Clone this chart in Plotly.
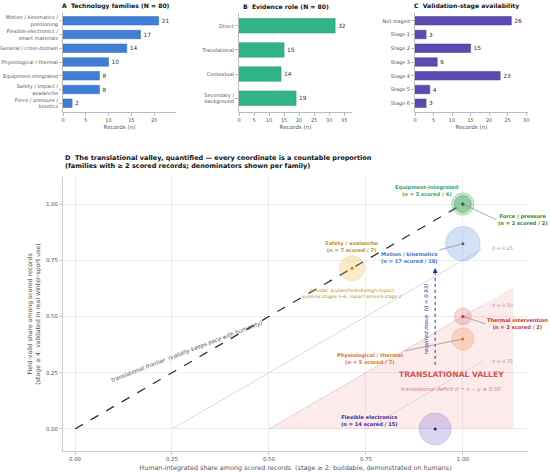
import plotly.graph_objects as go

FONT = "DejaVu Sans"

# ---- panel A: technology families
tech_families = ["Motion / kinematics /<br>positioning", "Flexible electronics /<br>smart materials",
                 "General / cross-domain", "Physiological / thermal", "Equipment-integrated",
                 "Safety / impact /<br>avalanche", "Force / pressure /<br>kinetics"]
tech_counts = [21, 17, 14, 10, 8, 8, 2]

# ---- panel B: evidence role
evidence_roles = ["Direct", "Translational", "Contextual", "Secondary /<br>background"]
evidence_counts = [32, 15, 14, 19]

# ---- panel C: validation stage
stages = ["Not staged", "Stage 1", "Stage 2", "Stage 3", "Stage 4", "Stage 5", "Stage 6"]
stage_counts = [26, 3, 15, 6, 23, 4, 3]

# ---- panel D: families with >= 2 scored records
d_families = ["Motion / kinematics", "Flexible electronics", "Physiological / thermal",
              "Equipment-integrated", "Safety / avalanche", "Force / pressure",
              "Thermal intervention"]
n_scored = [17, 14, 5, 5, 7, 2, 2]
n_total = [18, 15, 7, 6, 7, 2, 2]
n_human = [17, 13, 5, 5, 5, 2, 2]   # stage >= 2
n_field = [14, 0, 2, 5, 5, 2, 1]    # stage >= 4
fill_colors = ["rgba(74,134,216,0.35)", "rgba(106,90,205,0.35)", "rgba(244,150,100,0.45)",
               "rgba(60,170,100,0.40)", "rgba(240,190,80,0.45)", "rgba(40,140,60,0.45)",
               "rgba(224,90,100,0.35)"]
dot_colors = ["#2a62c0", "#2a1a80", "#e0702a", "#1f7a3a", "#c08a10", "#1a5a1a", "#d02030"]
label_colors = ["#3a78d0", "#3a2a9a", "#e0702a", "#2aa870", "#b8901a", "#2a8a2a", "#d03030"]

d_thresholds = [0.25, 0.50, 0.75]
valley_d = 0.50

hx = [h / s for h, s in zip(n_human, n_scored)]
fy = [f / s for f, s in zip(n_field, n_scored)]
sizes = [2 * (4 + 3.2 * s ** 0.5) for s in n_scored]

fig = go.Figure()

# top bars
fig.add_trace(go.Bar(y=tech_families, x=tech_counts, orientation="h", width=0.62,
                     marker=dict(color="#3f7fd6", line=dict(color="#2f6bc0", width=0.5)),
                     text=tech_counts, textposition="outside", cliponaxis=False,
                     textfont=dict(size=5.8, color="#333"), xaxis="x", yaxis="y"))
fig.add_trace(go.Bar(y=evidence_roles, x=evidence_counts, orientation="h", width=0.6,
                     marker=dict(color="#31b586", line=dict(color="#229a70", width=0.5)),
                     text=evidence_counts, textposition="outside", cliponaxis=False,
                     textfont=dict(size=5.8, color="#333"), xaxis="x2", yaxis="y2"))
fig.add_trace(go.Bar(y=stages, x=stage_counts, orientation="h", width=0.62,
                     marker=dict(color="#5b4bb0", line=dict(color="#45389a", width=0.5)),
                     text=stage_counts, textposition="outside", cliponaxis=False,
                     textfont=dict(size=5.8, color="#333"), xaxis="x3", yaxis="y3"))

# panel D: valley shading
x_end = 1.13
fig.add_trace(go.Scatter(x=[valley_d, x_end, x_end, valley_d], y=[0, x_end - valley_d, 0, 0],
                         fill="toself", fillcolor="rgba(240,120,120,0.15)", mode="lines",
                         line=dict(width=0), hoverinfo="skip", xaxis="x4", yaxis="y4"))

# iso-deficit lines
for d in d_thresholds:
    fig.add_trace(go.Scatter(x=[d, 1.05], y=[0, 1.05 - d], mode="lines",
                             line=dict(color="#d0d0d0", width=0.8), hoverinfo="skip",
                             xaxis="x4", yaxis="y4"))
    fig.add_annotation(x=1.07, y=1.07 - d - 0.02, text=f"d = {d:.2f}", showarrow=False,
                       xanchor="left", font=dict(size=4.8, color="#999"), xref="x4", yref="y4")

# frontier
fig.add_trace(go.Scatter(x=[0, 1], y=[0, 1], mode="lines",
                         line=dict(color="#333", width=1.3, dash="dash"), hoverinfo="skip",
                         xaxis="x4", yaxis="y4"))

# required move for flexible electronics
fx = hx[1]
fig.add_trace(go.Scatter(x=[fx, fx], y=[0.285, 0.70], mode="lines",
                         line=dict(color="#3a2a9a", width=1, dash="dot"), hoverinfo="skip",
                         xaxis="x4", yaxis="y4"))
fig.add_annotation(x=fx, y=0.715, ax=fx, ay=0.69, xref="x4", yref="y4", axref="x4", ayref="y4",
                   showarrow=True, arrowhead=2, arrowsize=1, arrowwidth=1, arrowcolor="#3a2a9a",
                   text="")
fig.add_annotation(x=fx - 0.022, y=0.49, text=f"required move  (d = {hx[1] - fy[1]:.2f})",
                   textangle=-90, showarrow=False, xref="x4", yref="y4",
                   font=dict(size=5.4, color="#3a2a9a", style="italic"))

# bubbles
fig.add_trace(go.Scatter(x=hx, y=fy, mode="markers", hoverinfo="skip",
                         marker=dict(size=sizes, color=fill_colors,
                                     line=dict(color=fill_colors, width=1)),
                         xaxis="x4", yaxis="y4"))
fig.add_trace(go.Scatter(x=hx, y=fy, mode="markers", hoverinfo="skip",
                         marker=dict(size=3, color=dot_colors), xaxis="x4", yaxis="y4"))

# family labels: (label x, label y, anchor, leader)
label_pos = [(0.862, 0.76, "center", True), (0.76, 0.036, "center", False),
             (0.76, 0.315, "center", True), (0.907, 1.062, "center", False),
             (0.714, 0.81, "center", False), (1.086, 0.93, "left", True),
             (1.058, 0.467, "left", True)]
for i, (lx, ly, anc, leader) in enumerate(label_pos):
    txt = f"<b>{d_families[i]}<br>(n = {n_scored[i]} scored / {n_total[i]})</b>"
    if leader:
        fig.add_annotation(x=hx[i], y=fy[i], ax=lx, ay=ly, xref="x4", yref="y4",
                           axref="x4", ayref="y4", text=txt, showarrow=True, arrowhead=0,
                           arrowwidth=0.7, arrowcolor="#888", xanchor=anc, standoff=0,
                           font=dict(size=5.1, color=label_colors[i]))
    else:
        fig.add_annotation(x=lx, y=ly, xref="x4", yref="y4", text=txt, showarrow=False,
                           xanchor=anc, font=dict(size=5.1, color=label_colors[i]))

fig.add_annotation(x=0.714, y=0.6, xref="x4", yref="y4", showarrow=False,
                   text="bimodal: avalanche/bobsleigh-impact<br>systems stages 5\u20136; impact sensors stage 1",
                   font=dict(size=4.5, color="#b8901a", style="italic"))
fig.add_annotation(x=0.29, y=0.345, xref="x4", yref="y4", showarrow=False, textangle=-21,
                   text="translational frontier  (validity keeps pace with humanity)",
                   font=dict(size=5.6, color="#555", style="italic"))
fig.add_annotation(x=0.97, y=0.24, xref="x4", yref="y4", showarrow=False,
                   text="<b>TRANSLATIONAL VALLEY</b>", font=dict(size=7.6, color="#d9534f"))
fig.add_annotation(x=0.97, y=0.175, xref="x4", yref="y4", showarrow=False,
                   text="translational deficit d = x \u2212 y \u2265 0.50",
                   font=dict(size=5.4, color="#d98080", style="italic"))

# titles
title_font = dict(size=6.1, color="#111", family=FONT)
for tx, ttl in [(115.5, "A  Technology families (N = 80)"), (285.5, "B  Evidence role (N = 80)"),
                (466.5, "C  Validation-stage availability")]:
    fig.add_annotation(x=tx / 550, y=1 - 6 / 473, xref="paper", yref="paper", showarrow=False,
                       text=f"<b>{ttl}</b>", font=title_font, xanchor="center", yanchor="middle")
fig.add_annotation(x=63 / 550, y=1 - 152 / 473, xref="paper", yref="paper", showarrow=False,
                   xanchor="left", yanchor="top", align="left",
                   text="<b>D  The translational valley, quantified \u2014 every coordinate is a countable proportion<br>"
                        "(families with \u2265 2 scored records; denominators shown per family)</b>",
                   font=dict(size=6.5, color="#111", family=FONT))

tick_font = dict(size=5.0, color="#555")
bar_x = dict(showline=True, linecolor="#bbb", ticks="outside", ticklen=3, tickcolor="#bbb",
             showgrid=False, zeroline=False, tickfont=tick_font, automargin=False,
             title=dict(text="Records (n)", font=dict(size=5.6, color="#555"), standoff=3))
bar_y = dict(showline=True, linecolor="#bbb", ticks="outside", ticklen=3, tickcolor="#bbb",
             showgrid=False, tickfont=tick_font, automargin=False)
top_dom = [1 - 111.5 / 473, 1 - 12.5 / 473]
d_ax = dict(tickvals=[0, 0.25, 0.5, 0.75, 1.0], ticktext=["0.00", "0.25", "0.50", "0.75", "1.00"],
            showline=True, linecolor="#ccc", ticks="outside", ticklen=3, tickcolor="#ccc",
            showgrid=True, gridcolor="#eeeeee", gridwidth=0.8, zeroline=False,
            tickfont=dict(size=5.4, color="#555"), automargin=False)

fig.update_layout(
    width=550, height=473, showlegend=False, plot_bgcolor="white", paper_bgcolor="white",
    margin=dict(l=0, r=0, t=0, b=0), font=dict(family=FONT), bargap=0.3,
    xaxis=dict(bar_x, domain=[63 / 550, 176 / 550], range=[0, 24.8], tickvals=[0, 5, 10, 15, 20],
               anchor="y"),
    yaxis=dict(bar_y, domain=top_dom, range=[6.6, -0.6], anchor="x"),
    xaxis2=dict(bar_x, domain=[239 / 550, 352 / 550], range=[0, 37.6],
                tickvals=[0, 5, 10, 15, 20, 25, 30, 35], anchor="y2"),
    yaxis2=dict(bar_y, domain=top_dom, range=[3.55, -0.55], anchor="x2"),
    xaxis3=dict(bar_x, domain=[415 / 550, 528 / 550], range=[0, 30.5],
                tickvals=[0, 5, 10, 15, 20, 25, 30], anchor="y3"),
    yaxis3=dict(bar_y, domain=top_dom, range=[6.6, -0.6], anchor="x3"),
    xaxis4=dict(d_ax, domain=[63 / 550, 528 / 550], range=[-0.031, 1.168], anchor="y4",
                title=dict(text="Human-integrated share among scored records  (stage \u2265 2: buildable, demonstrated on humans)",
                           font=dict(size=6.4, color="#555"), standoff=4)),
    yaxis4=dict(d_ax, domain=[1 - 451 / 473, 1 - 177 / 473], range=[-0.098, 1.12], anchor="x4",
                title=dict(text="Field-valid share among scored records<br>(stage \u2265 4: validated in real winter-sport use)",
                           font=dict(size=6.2, color="#555"), standoff=4)),
)

# the page's default body margin would shift the figure by 8px
fig.write_html("out.html", config={"displayModeBar": False},
               post_script="document.body.style.margin='0px';")
